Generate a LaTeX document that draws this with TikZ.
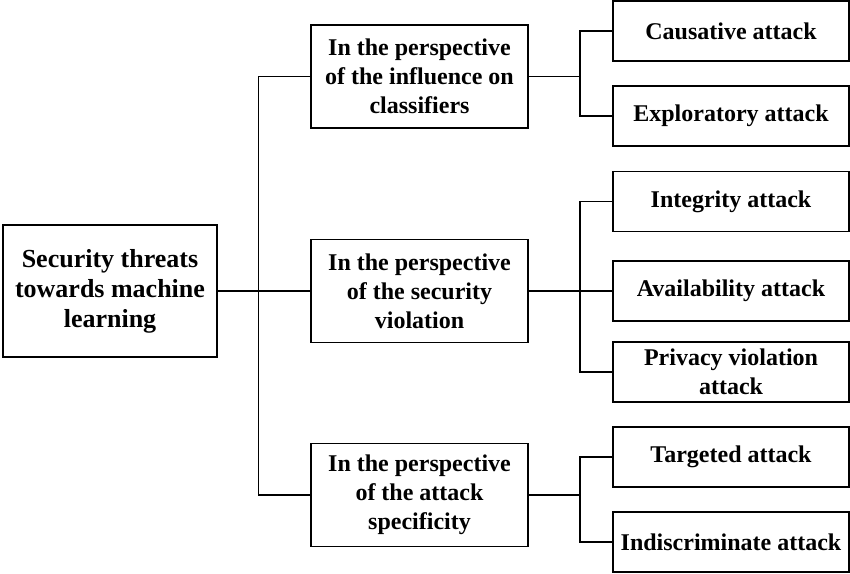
\documentclass[tikz,border=0pt]{standalone}
\usepackage{fontspec}
\setmainfont{Liberation Serif}
\usepackage{tikz}

\tikzset{
    rootbox/.style={draw, line width=1.8pt, align=center, inner sep=0pt, minimum width=214pt, minimum height=132pt, font=\fontsize{26}{30}\selectfont\bfseries},
    midbox/.style={draw, line width=1.8pt, align=center, inner sep=0pt, minimum width=217pt, minimum height=103pt},
    leafbox/.style={draw, line width=1.8pt, align=center, inner sep=0pt, minimum width=236pt, minimum height=60pt},
}

\begin{document}
\begin{tikzpicture} [x=1pt, y=-1pt, line width=1.4pt, font=\fontsize{24}{29}\selectfont\bfseries]
        \def\trunkx{258.5}
        \def\busx{580}
        \def\midx{419.5}
        \def\leafx{731}

        \useasboundingbox (0,0) rectangle (850,573);

        \coordinate (trunk) at (\trunkx,0);
        \coordinate (bus) at (\busx,0);

        \node[rootbox] (threat) at (110,291) {Security threats\\towards machine\\learning};

        \node[midbox] (influence) at (\midx,76.5) {In the perspective\\of the influence on\\classifiers};
        \node[midbox] (violation) at (\midx,291) {In the perspective\\of the security\\violation};
        \node[midbox] (specific) at (\midx,495) {In the perspective\\of the attack\\specificity};

        \node[leafbox] (causative) at (\leafx,31) {Causative attack};
        \node[leafbox] (exploratory) at (\leafx,116) {Exploratory attack};
        \node[leafbox] (integrity) at (\leafx,201.5) {Integrity attack};
        \node[leafbox] (availability) at (\leafx,291) {Availability attack};
        \node[leafbox] (privacy) at (\leafx,372) {Privacy violation\\attack};
        \node[leafbox] (targeted) at (\leafx,457) {Targeted attack};
        \node[leafbox] (indiscriminate) at (\leafx,542) {Indiscriminate attack};

        \draw (threat.east) -- (violation.west);
        \draw (influence.west) -- (influence.west -| trunk) |- (specific.west);

        \foreach \m/\first/\last in {influence/causative/exploratory, violation/integrity/privacy, specific/targeted/indiscriminate} {
            \draw (\m.east) -- (\m.east -| bus);
            \draw (\first.west) -- (\first.west -| bus) |- (\last.west);
        }
        \draw (availability.west) -- (availability.west -| bus);

    \end{tikzpicture}
\end{document}
